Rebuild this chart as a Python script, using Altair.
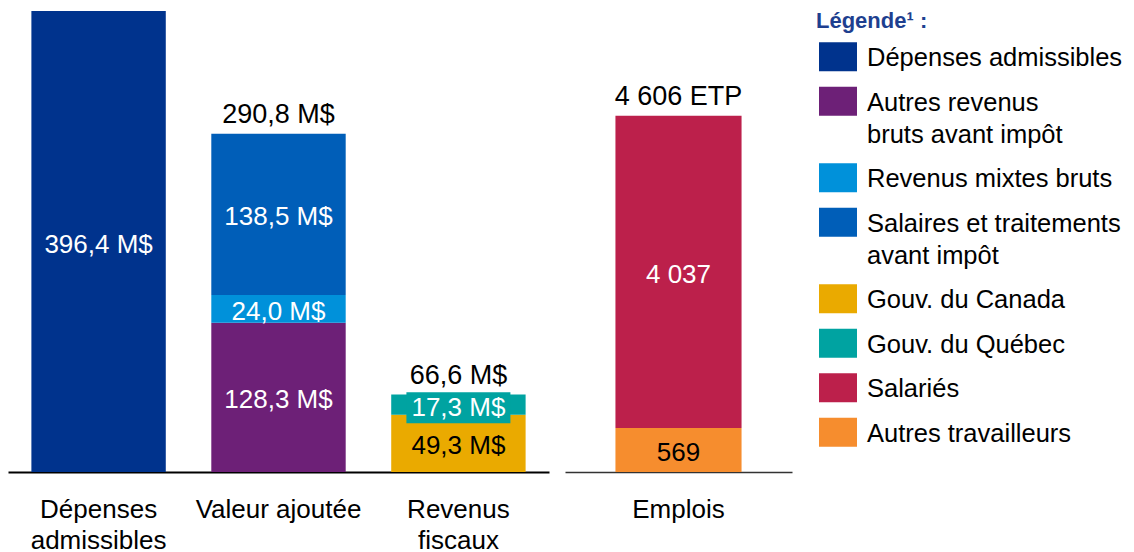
import altair as alt
import pandas as pd

# ---------------- data ----------------
legend_names = [
    "Dépenses admissibles",
    "Autres revenus|bruts avant impôt",
    "Revenus mixtes bruts",
    "Salaires et traitements|avant impôt",
    "Gouv. du Canada",
    "Gouv. du Québec",
    "Salariés",
    "Autres travailleurs",
]
legend_colors = ["#00338D", "#6D2077", "#0091DA", "#005EB8",
                 "#EAAA00", "#00A3A1", "#BC204B", "#F68D2E"]

money_categories = ["Dépenses|admissibles", "Valeur ajoutée", "Revenus|fiscaux"]
money_category = ["Dépenses|admissibles", "Valeur ajoutée", "Valeur ajoutée",
                  "Valeur ajoutée", "Revenus|fiscaux", "Revenus|fiscaux"]
money_segment = ["Dépenses admissibles", "Autres revenus|bruts avant impôt",
                 "Revenus mixtes bruts", "Salaires et traitements|avant impôt",
                 "Gouv. du Canada", "Gouv. du Québec"]
money_value = [396.4, 128.3, 24.0, 138.5, 49.3, 17.3]
money_text_color = ["white", "white", "white", "white", "black", "white"]
money_boxed = [False, False, False, False, False, True]

job_categories = ["Emplois"]
job_category = ["Emplois", "Emplois"]
job_segment = ["Autres travailleurs", "Salariés"]
job_value = [569, 4037]
job_text_color = ["black", "white"]
job_axis_max = 5960

FONT = "Liberation Sans"


def fr_money(v):
    return f"{v:.1f}".replace(".", ",") + " M$"


def fr_int(v):
    return f"{int(v):,}".replace(",", " ")


money_df = pd.DataFrame({
    "category": money_category,
    "segment": money_segment,
    "value": money_value,
    "ord": list(range(len(money_value))),
    "label": [fr_money(v) for v in money_value],
    "tcolor": money_text_color,
    "boxed": money_boxed,
})
money_tot = money_df.groupby("category", sort=False).agg(total=("value", "sum"), n=("value", "size")).reset_index()
money_max = float(money_tot["total"].max())
money_tot = money_tot[money_tot["n"] > 1].copy()
money_tot["label"] = money_tot["total"].round(1).map(fr_money)

job_df = pd.DataFrame({
    "category": job_category,
    "segment": job_segment,
    "value": job_value,
    "ord": list(range(len(job_value))),
    "label": [fr_int(v) for v in job_value],
    "tcolor": job_text_color,
    "boxed": [False, False],
})
job_tot = job_df.groupby("category", sort=False).agg(total=("value", "sum")).reset_index()
job_tot["label"] = job_tot["total"].map(lambda v: fr_int(v) + " ETP")

# ---------------- styling helpers ----------------
color_scale = alt.Scale(domain=legend_names, range=legend_colors)

legend = alt.Legend(
    title="Légende¹ :",
    titleFont=FONT, titleFontSize=22, titleFontWeight="bold", titleColor="#1E3F8F",
    titleBaseline="top", titlePadding=14, titleAnchor="start",
    labelFont=FONT, labelFontSize=25.5, labelColor="black", labelLimit=400,
    labelBaseline="alphabetic", labelOffset=10,
    labelExpr="split(datum.label, '|')",
    symbolType="M-1,-1.252H1V0.274H-1Z", symbolSize=1444,
    symbolStrokeWidth=0, symbolOpacity=1, symbolOffset=3,
    rowPadding=14.5, offset=24, orient="right", padding=0,
)


def x_axis(domain_color, domain_width):
    return alt.Axis(
        title=None, ticks=False, tickSize=0, domainColor=domain_color, domainWidth=domain_width,
        labelFont=FONT, labelFontSize=26, labelColor="black", labelPadding=24,
        labelLineHeight=31, labelAngle=0, labelLimit=400, labelOverlap=False,
        labelExpr="split(datum.label, '|')",
    )


def panel(df, tot, cats, ymax, width, pin, pout, dcolor, dwidth, box_color=None):
    xenc = alt.X("category:N", sort=cats,
                 scale=alt.Scale(paddingInner=pin, paddingOuter=pout),
                 axis=x_axis(dcolor, dwidth))
    ys = alt.Scale(domain=[0, ymax], nice=False, zero=True)
    base = alt.Chart(df).transform_stack(
        stack="value", groupby=["category"], as_=["y0", "y1"],
        sort=[alt.SortField("ord", order="ascending")],
    ).transform_calculate(mid="(datum.y0 + datum.y1) / 2")

    bars = base.mark_bar().encode(
        x=xenc,
        y=alt.Y("y0:Q", scale=ys, axis=None),
        y2="y1:Q",
        color=alt.Color("segment:N", scale=color_scale, legend=legend),
    )
    layers = [bars]
    if box_color is not None:
        box = base.transform_filter("datum.boxed").mark_point(
            shape="M-1,-0.24H1V0.36H-1Z", size=104 * 104, filled=True, opacity=1,
            color=box_color, strokeWidth=0,
        ).encode(x=xenc, y=alt.Y("mid:Q", scale=ys, axis=None))
        layers.append(box)
    for tc in ["white", "black"]:
        layers.append(
            base.transform_filter(f"datum.tcolor == '{tc}'").mark_text(
                font=FONT, fontSize=26, color=tc, baseline="middle", dy=3,
            ).encode(x=xenc, y=alt.Y("mid:Q", scale=ys, axis=None), text="label:N")
        )
    layers.append(
        alt.Chart(tot).mark_text(
            font=FONT, fontSize=27, color="black", baseline="alphabetic", dy=-11,
        ).encode(x=xenc, y=alt.Y("total:Q", scale=ys, axis=None), text="label:N")
    )
    return alt.layer(*layers).properties(width=width, height=461)


left = panel(money_df, money_tot, money_categories, money_max, 541, 0.253, 0.13,
             "black", 2, box_color="#00A3A1")
right = panel(job_df, job_tot, job_categories, job_axis_max, 227, 0.0, 0.4,
              "#333333", 1.5)

chart = alt.hconcat(left, right, spacing=16).properties(
    padding={"left": 0, "top": 3, "right": 0, "bottom": 0}
).configure(
    style={"guide-label": {"lineHeight": 32}}
).configure_view(stroke=None)

chart.save("out.html", embed_options={"renderer": "svg", "actions": False})
